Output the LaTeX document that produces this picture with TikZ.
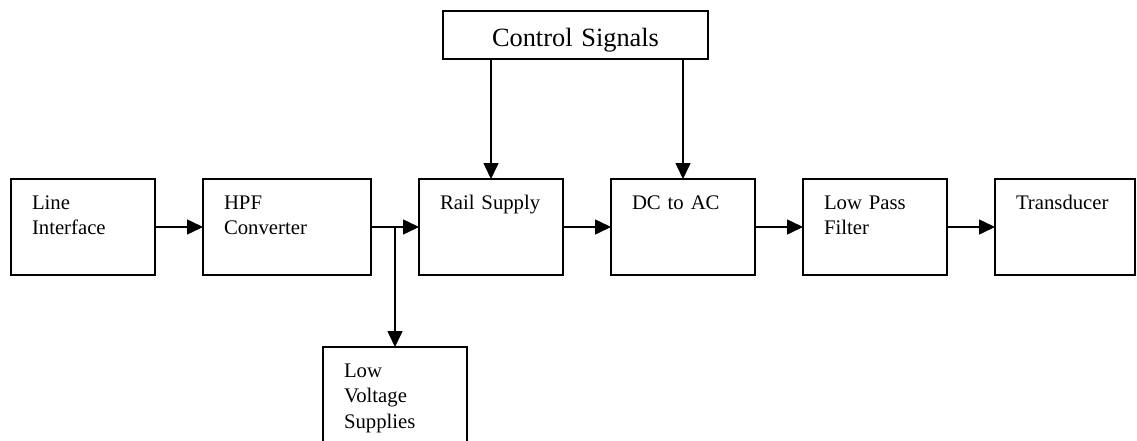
\documentclass[tikz,border=0pt]{standalone}
\usepackage{fontspec}
\setmainfont{Liberation Serif}
\usetikzlibrary{positioning,arrows.meta}
\tikzset{
  >={Triangle[length=3.2mm,width=3mm]},
  blk/.style={draw,line width=1.2pt,outer sep=0pt,inner xsep=4.2mm,inner ysep=0pt,
              text width=20.4mm,text height=6mm,text depth=13.2mm,align=left,
              font=\fontsize{11.8pt}{14.7pt}\selectfont},
  wblk/.style={blk,text width=25.2mm},
  ctl/.style ={blk,align=center,text width=44.6mm,text height=7mm,text depth=2.6mm,
               font=\fontsize{15pt}{18pt}\selectfont},
  arr/.style ={->,line width=0.9pt},
}
\begin{document}
\begin{tikzpicture}
    \useasboundingbox (0,0) rectangle (22.74,-8.8);
    % main chain
    \node[blk] (li) at (1.66,-4.54) {Line\\Interface};
    \node[wblk,right=9.6mm of li] (hpf) {HPF\\Converter};
    \node[blk,right=9.6mm of hpf] (rail) {Rail Supply};
    \node[blk,right=9.6mm of rail] (dcac) {DC to AC};
    \node[blk,right=9.6mm of dcac] (lpf) {Low Pass\\Filter};
    \node[blk,text width=19.6mm,right=9.6mm of lpf] (trans) {Transducer};
    % side blocks
    \node[ctl] (ctrl) at (11.51,-0.70) {Control Signals};
    \node[blk] (lvs) at (7.9,-7.9) {Low\\Voltage\\Supplies};
    \coordinate (split) at (hpf.east -| lvs.north);
    \draw[arr] (li)--(hpf);
    \draw[arr] (hpf)--(rail);
    \draw[arr] (split)--(lvs);
    \draw[arr] (rail)--(dcac);
    \draw[arr] (dcac)--(lpf);
    \draw[arr] (lpf)--(trans);
    \draw[arr] (ctrl.south -| rail.north)--(rail);
    \draw[arr] (ctrl.south -| dcac.north)--(dcac);
\end{tikzpicture}
\end{document}
